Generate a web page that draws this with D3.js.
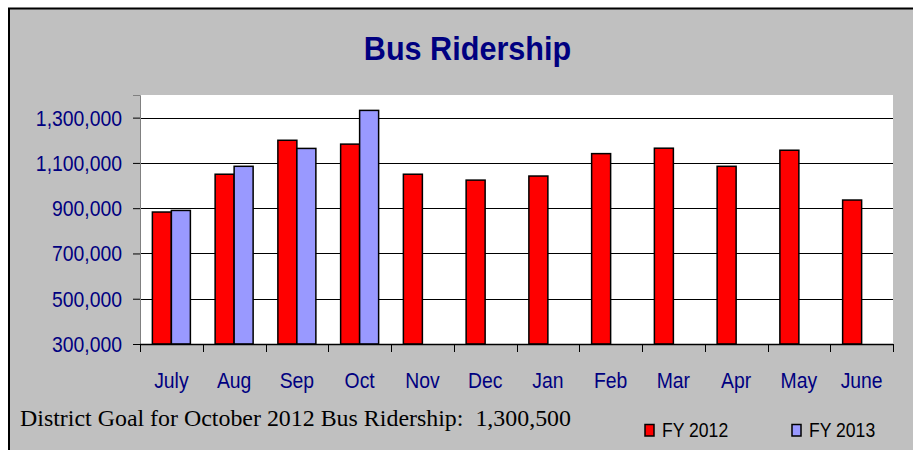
<!DOCTYPE html>
<html>
<head>
<meta charset="utf-8">
<script src="https://cdn.jsdelivr.net/npm/d3@7"></script>
<style>
  html, body { margin: 0; padding: 0; background: #fff; }
  svg { display: block; }
  .sans { font-family: Arial, "Liberation Sans", sans-serif; }
  .serif { font-family: "Times New Roman", "Liberation Serif", serif; white-space: pre; }
</style>
</head>
<body>
<svg id="chart" width="913" height="450"></svg>
<script>
/* ---------- Data ---------- */
const months = ["July","Aug","Sep","Oct","Nov","Dec","Jan","Feb","Mar","Apr","May","June"];
const fy2012 = [883000,1050000,1200000,1183000,1050000,1024000,1042000,1141000,1165000,1085000,1156000,936000];
const fy2013 = [890000,1085000,1164000,1332000,null,null,null,null,null,null,null,null];
const yTicks = [300000,500000,700000,900000,1100000,1300000];
const seriesNames = ["FY 2012","FY 2013"];
const seriesColors = ["#ff0000","#9999ff"];
const title = "Bus Ridership";
const note = "District Goal for October 2012 Bus Ridership:  1,300,500";

/* ---------- Layout ---------- */
const W = 913, H = 450;
const plot = { left: 140, right: 893, top: 95, bottom: 344 };
const NAVY = "#000080";

const svg = d3.select("#chart");

// outer chart frame (gray, black top/left edge; right/bottom run off the picture)
svg.append("rect")
  .attr("x", 9).attr("y", 8.5)
  .attr("width", W + 20).attr("height", H + 20)
  .attr("fill", "#c0c0c0")
  .attr("stroke", "#000").attr("stroke-width", 2);

// plot area
svg.append("rect")
  .attr("x", plot.left).attr("y", plot.top)
  .attr("width", plot.right - plot.left).attr("height", plot.bottom - plot.top)
  .attr("fill", "#fff");

/* ---------- Scales ---------- */
const x = d3.scaleBand().domain(months).range([plot.left, plot.right]).padding(0);
const y = d3.scaleLinear().domain([300000, 1400000]).range([plot.bottom, plot.top]);
const barW = 19;

// horizontally squeezed text (the source render is narrower than Arial)
function sText(g, tx, ty, str, sq){
  return g.append("text")
    .attr("class", "sans")
    .attr("transform", `translate(${tx},${ty}) scale(${sq},1)`)
    .text(str);
}

/* ---------- Gridlines ---------- */
svg.append("g")
  .selectAll("line")
  .data(yTicks.filter(v => v > 300000))
  .join("line")
  .attr("x1", plot.left).attr("x2", plot.right)
  .attr("y1", d => Math.round(y(d)) + 0.5).attr("y2", d => Math.round(y(d)) + 0.5)
  .attr("stroke", "#000").attr("stroke-width", 1);

/* ---------- Bars ---------- */
const rows = months.map((m, i) => ({ m, vals: [fy2012[i], fy2013[i]] }));
const gBars = svg.append("g");
rows.forEach(r => {
  const cx = x(r.m) + x.bandwidth() / 2;
  r.vals.forEach((v, s) => {
    if (v == null) return;
    gBars.append("rect")
      .attr("x", s === 0 ? cx - barW : cx)
      .attr("y", y(v))
      .attr("width", barW)
      .attr("height", y(300000) - y(v))
      .attr("fill", seriesColors[s])
      .attr("stroke", "#000")
      .attr("stroke-width", 1.5);
  });
});

/* ---------- Axes ---------- */
// y axis
const yAxis = svg.append("g").attr("transform", `translate(${plot.left},0)`)
  .call(d3.axisLeft(y).tickValues(yTicks).tickSize(7).tickFormat(""));
yAxis.select(".domain").attr("stroke", "#808080");
yAxis.selectAll(".tick line").attr("stroke", "#000");

const gYLab = svg.append("g").attr("fill", NAVY).attr("font-size", 22).attr("text-anchor", "end");
yTicks.forEach(v => {
  sText(gYLab, 122, y(v) + 8, d3.format(",")(v), 0.88);
});

// x axis: ticks at category boundaries
const bounds = months.map(m => x(m)).concat([plot.right]);
svg.append("line")
  .attr("x1", plot.left).attr("x2", plot.right)
  .attr("y1", plot.bottom + 0.5).attr("y2", plot.bottom + 0.5)
  .attr("stroke", "#000").attr("stroke-width", 1.5);
svg.append("g").selectAll("line")
  .data(bounds)
  .join("line")
  .attr("x1", d => Math.round(d) + 0.5).attr("x2", d => Math.round(d) + 0.5)
  .attr("y1", plot.bottom).attr("y2", plot.bottom + 8)
  .attr("stroke", "#000").attr("stroke-width", 1);

const gXLab = svg.append("g").attr("fill", NAVY).attr("font-size", 22).attr("text-anchor", "middle");
months.forEach(m => {
  sText(gXLab, x(m) + x.bandwidth() / 2, 388, m, 0.88);
});

/* ---------- Title ---------- */
const gTitle = svg.append("g").attr("fill", NAVY).attr("font-size", 34)
  .attr("font-weight", "bold").attr("text-anchor", "middle");
sText(gTitle, 467.5, 59.5, title, 0.9);

/* ---------- Note ---------- */
svg.append("text")
  .attr("class", "serif")
  .attr("x", 20).attr("y", 426)
  .attr("font-size", 23)
  .attr("fill", "#000")
  .attr("textLength", 551)
  .attr("lengthAdjust", "spacingAndGlyphs")
  .text(note);

/* ---------- Legend ---------- */
const legendX = [645, 792];
const gLeg = svg.append("g").attr("font-size", 20).attr("fill", "#000");
seriesNames.forEach((name, i) => {
  gLeg.append("rect")
    .attr("x", legendX[i]).attr("y", 424.5)
    .attr("width", 9).attr("height", 11.5)
    .attr("fill", seriesColors[i])
    .attr("stroke", "#000").attr("stroke-width", 1.5);
  sText(gLeg, legendX[i] + 17, 436.5, name, 0.88);
});
</script>
</body>
</html>
